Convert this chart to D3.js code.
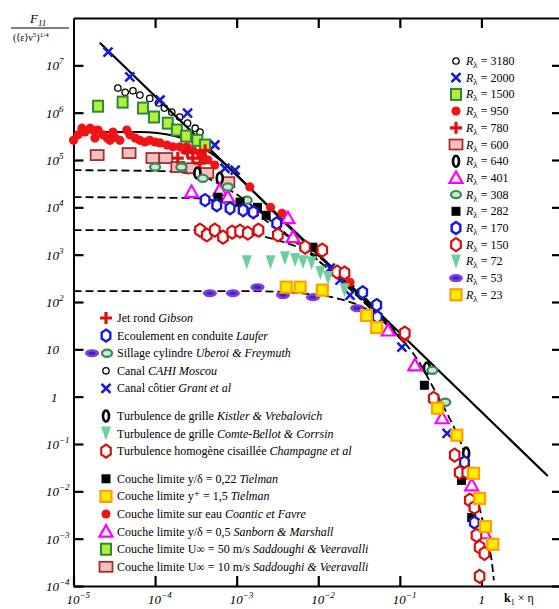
<!DOCTYPE html>
<html>
<head>
<meta charset="utf-8">
<script src="https://cdn.jsdelivr.net/npm/d3@7"></script>
<style>
  body { margin: 0; background: #fff; }
  svg { display: block; font-family: "Liberation Serif", "DejaVu Serif", serif; }
</style>
</head>
<body>
<script>
// ticks
var xTickValues = [1e-5, 1e-4, 1e-3, 1e-2, 1e-1, 1, 10];
var xTickBase = ['10', '10', '10', '10', '10', '1', '10'];
var xTickExp = ['\u22125', '\u22124', '\u22123', '\u22122', '\u22121', '', ''];
var yTickValues = [1e-4, 1e-3, 1e-2, 1e-1, 1, 10, 1e2, 1e3, 1e4, 1e5, 1e6, 1e7];
var yTickBase = ['10', '10', '10', '10', '1', '10', '10', '10', '10', '10', '10', '10'];
var yTickExp = ['\u22124', '\u22123', '\u22122', '\u22121', '', '', '2', '3', '4', '5', '6', '7'];

// spectra, k1*eta vs F11/(eps nu^5)^1/4
var k3180 = [3.5e-5, 4.3e-5, 5.35e-5, 6.5e-5, 8.6e-5, 1.1e-4, 1.3e-4, 1.6e-4, 2.0e-4, 2.5e-4, 3.1e-4, 3.55e-4];
var f3180 = [3.3e6, 2.7e6, 2.9e6, 2.35e6, 2.0e6, 1.6e6, 1.25e6, 1.03e6, 8.1e5, 6.0e5, 4.7e5, 3.9e5];
var k2000 = [2.65e-5, 4.9e-5, 1.15e-4, 2.5e-4, 5.4e-4, 7.2e-4, 9.6e-4, 1.4e-2, 1.85e-2, 2.45e-2, 0.106, 0.38];
var f2000 = [1.9e7, 5.7e6, 1.85e6, 9.8e5, 2.07e5, 6.7e4, 6.1e4, 520, 290, 140, 11.1, 0.168];
var k1500 = [2.0e-5, 4.0e-5, 7.1e-5, 9.7e-5, 1.43e-4, 1.85e-4, 2.4e-4, 3.3e-4, 4.1e-4];
var f1500 = [1.37e6, 1.67e6, 1.25e6, 8.1e5, 6.0e5, 4.3e5, 3.2e5, 2.6e5, 2.07e5];
var k950 = [1e-5, 1.14e-5, 1.27e-5, 1.38e-5, 1.6e-5, 1.73e-5, 1.83e-5, 2.0e-5, 2.3e-5, 2.6e-5, 2.8e-5, 3.05e-5, 3.2e-5, 3.7e-5,
  4.5e-5, 4.9e-5, 5.7e-5, 6.5e-5, 7.5e-5, 8.6e-5, 1.0e-4, 1.15e-4, 1.4e-4, 1.65e-4, 2.0e-4, 2.3e-4, 2.45e-4, 2.9e-4,
  3.55e-4, 3.85e-4, 4.45e-4, 5.4e-4, 1.45e-3, 2.6e-3, 3.6e-3, 2.45e-2, 0.115];
var f950 = [2.6e5, 3.4e5, 4.7e5, 3.9e5, 4.7e5, 4.3e5, 2.9e5, 4.3e5, 3.4e5, 2.9e5, 2.6e5, 3.9e5, 3.0e5, 2.6e5,
  4.3e5, 3.4e5, 2.9e5, 2.6e5, 2.4e5, 2.6e5, 2.4e5, 2.3e5, 2.07e5, 1.9e5, 1.9e5, 1.6e5, 1.9e5, 1.6e5,
  1.4e5, 1.15e5, 1.0e5, 7.8e4, 2.7e4, 1.0e4, 7.5e3, 260, 18];
var k780 = [1.9e-4, 2.5e-4, 2.9e-4, 3.55e-4, 4.1e-4];
var f780 = [1.1e5, 1.47e5, 1.1e5, 8.6e4, 1.6e5];
var k600 = [1.95e-5, 4.8e-5, 9.4e-5, 1.35e-4, 1.9e-4, 2.9e-4, 4.3e-4, 7.8e-4];
var f600 = [1.27e5, 1.4e5, 1.1e5, 1.1e5, 7.1e4, 6.7e4, 5.3e4, 3.4e4];
var k640 = [3.3e-4, 6.2e-4, 0.215, 0.65];
var f640 = [5.3e4, 4.1e4, 4.0, 0.064];
var k401 = [2.8e-4, 6.2e-4, 7.8e-4, 4.25e-3, 4.9e-3, 7.2e-2, 0.153, 0.33, 0.76, 1.09];
var f401 = [2.1e4, 2.3e4, 1.64e4, 5.9e3, 2.35e3, 25, 4.6, 0.35, 0.0134, 0.0013];
var k308 = [1.0e-4, 2.1e-4, 3.85e-4, 7.8e-4, 1.33e-3, 0.25, 0.36];
var f308 = [7.1e4, 7.1e4, 4.1e4, 2.7e4, 1.42e4, 3.6, 0.76];
var k282 = [5.9e-4, 1.1e-3, 1.8e-3, 2.3e-3, 8.6e-3, 0.2, 0.57, 0.76];
var f282 = [1.64e4, 1.29e4, 1.0e4, 6.8e3, 1.44e3, 1.74, 0.017, 0.0028];
var k170 = [4.1e-4, 5.7e-4, 8.3e-4, 1.2e-3, 1.6e-3, 3.1e-3, 3.5e-2, 5.2e-2, 5.3e-2, 0.62, 0.82];
var f170 = [1.42e4, 1.11e4, 9.6e3, 8.7e3, 7.9e3, 4.6e3, 160, 86, 48, 0.041, 0.0022];
var k150 = [3.55e-4, 4.3e-4, 5.4e-4, 6.8e-4, 8.8e-4, 1.1e-3, 1.37e-3, 1.85e-3, 3.2e-3, 6.9e-3, 1.12e-2, 1.7e-2, 2.1e-2,
  0.115, 0.26, 0.47, 0.54, 0.67, 0.72, 0.82, 0.87, 0.95, 1.09, 0.95];
var f150 = [3.3e3, 2.6e3, 3.3e3, 2.35e3, 3.0e3, 3.14e3, 2.85e3, 3.3e3, 2.6e3, 1.44e3, 1.25e3, 430, 410,
  22, 0.92, 0.058, 0.025, 0.025, 0.0065, 0.0046, 0.00117, 0.00066, 0.00049, 0.00016];
var k72 = [1.33e-3, 2.6e-3, 3.9e-3, 5.2e-3, 6.5e-3, 8.3e-3, 1.06e-2, 1.32e-2, 2.1e-2];
var f72 = [690, 690, 840, 770, 690, 660, 410, 320, 178];
var k53 = [4.7e-4, 9.0e-4, 1.8e-3, 3.7e-3, 8.6e-3, 3.0e-2];
var f53 = [153, 153, 206, 140, 126, 74];
var k23 = [4.05e-3, 6.0e-3, 1.12e-2, 3.9e-2, 5.2e-2, 0.29, 0.5, 0.8, 0.95, 1.12, 1.38];
var f23 = [206, 206, 178, 52, 29, 0.57, 0.153, 0.024, 0.0071, 0.0018, 0.00076];

// model curves
var kLine = [2.1e-5, 6.5];
var fLine = [3.0e7, 0.021];
var kCurveA = [1e-5, 6.5e-5, 1.75e-4, 3.55e-4, 7.2e-4, 1.45e-3, 3.4e-3, 1.06e-2, 3.24e-2, 0.1155];
var fCurveA = [3.9e5, 3.9e5, 3.2e5, 1.97e5, 8.2e4, 2.55e4, 5.9e3, 890, 133, 13.5];
var kCurveB = [1e-5, 1.3e-4, 3.55e-4, 8.3e-4, 1.95e-3, 4.5e-3, 1.06e-2, 3.24e-2, 0.1155];
var fCurveB = [6.1e4, 5.8e4, 4.6e4, 2.3e4, 7.9e3, 2.35e3, 690, 120, 13.5];
var kCurveC = [1e-5, 2.7e-4, 7.2e-4, 1.67e-3, 3.9e-3, 1.06e-2, 3.24e-2, 0.1155];
var fCurveC = [1.64e4, 1.57e4, 1.23e4, 7.2e3, 2.7e3, 690, 120, 13.5];
var kCurveD = [1e-5, 2.7e-4, 1.45e-3, 4.5e-3, 1.06e-2, 2.1e-2, 4.95e-2, 0.1155];
var fCurveD = [3.3e3, 3.3e3, 2.7e3, 1.67e3, 840, 330, 74, 13.5];
var kCurveE = [1e-5, 1.45e-3, 6.0e-3, 1.85e-2, 3.73e-2, 6.56e-2, 0.1155];
var fCurveE = [170, 170, 153, 115, 74, 37, 13.5];
var kTail = [0.1155, 0.176, 0.255, 0.378, 0.544, 0.684, 0.81, 1.014, 1.17, 1.35, 1.42];
var fTail = [13.5, 5.1, 1.58, 0.446, 0.12, 0.039, 0.0122, 0.0028, 9.2e-4, 3.0e-4, 1.31e-4];

// legends
var rLambda = ['3180', '2000', '1500', '950', '780', '600', '640', '401', '308', '282', '170', '150', '72', '53', '23'];
var sourceText = ['Jet rond ', 'Ecoulement en conduite ', 'Sillage cylindre ', 'Canal  ', 'Canal c\u00f4tier ',
  'Turbulence de grille ', 'Turbulence de grille ', 'Turbulence homog\u00e8ne cisaill\u00e9e ',
  'Couche limite y/\u03b4 = 0,22  ', 'Couche limite y\u207a = 1,5  ', 'Couche limite sur eau ',
  'Couche limite y/\u03b4 = 0,5  ', 'Couche limite U\u221e = 50 m/s  ', 'Couche limite U\u221e = 10 m/s  '];
var sourceAuthor = ['Gibson', 'Laufer', 'Uberoi & Freymuth', 'CAHI Moscou', 'Grant et al',
  'Kistler & Vrebalovich', 'Comte-Bellot & Corrsin', 'Champagne et al',
  'Tielman', 'Tielman', 'Coantic et Favre', 'Sanborn & Marshall', 'Saddoughi & Veeravalli', 'Saddoughi & Veeravalli'];

var series = [
  {k: k950, f: f950, marker: 'dot'},
  {k: k3180, f: f3180, marker: 'ring'},
  {k: k2000, f: f2000, marker: 'cross'},
  {k: k1500, f: f1500, marker: 'sqGreen'},
  {k: k600, f: f600, marker: 'sqPink'},
  {k: k780, f: f780, marker: 'plus'},
  {k: k640, f: f640, marker: 'zero'},
  {k: k401, f: f401, marker: 'triMag'},
  {k: k308, f: f308, marker: 'diamond'},
  {k: k282, f: f282, marker: 'sqBlack'},
  {k: k170, f: f170, marker: 'hexBlue'},
  {k: k150, f: f150, marker: 'hexRed'},
  {k: k72, f: f72, marker: 'triDown'},
  {k: k53, f: f53, marker: 'ellPurple'},
  {k: k23, f: f23, marker: 'sqYellow'}
];
var rLambdaMarkers = ['ring', 'cross', 'sqGreen', 'dot', 'plus', 'sqPink', 'zero', 'triMag', 'diamond',
  'sqBlack', 'hexBlue', 'hexRed', 'triDown', 'ellPurple', 'sqYellow'];
var sourceMarkers = [['plus'], ['hexBlue'], ['ellPurple', 'diamond'], ['ring'], ['cross'], ['zero'], ['triDown'],
  ['hexRed'], ['sqBlack'], ['sqYellow'], ['dot'], ['triMag'], ['sqGreen'], ['sqPink']];

var width = 559, height = 609;
var svg = d3.select('body').append('svg').attr('width', width).attr('height', height);

var x = d3.scaleLog().domain([1e-5, 10]).range([73.5, 563]);
var y = d3.scaleLog().domain([1e-4, 1e8]).range([586, 18]);

function hexPath(rx, ry) {
  var pts = d3.range(6).map(function(i) {
    var a = Math.PI / 3 * i - Math.PI / 2;
    return [Math.cos(a) * rx, Math.sin(a) * ry];
  });
  return 'M' + pts.join('L') + 'Z';
}

function drawMarker(g, type) {
  switch (type) {
    case 'ring':
      g.append('circle').attr('r', 3.2).attr('fill', 'none').attr('stroke', '#000').attr('stroke-width', 1.3);
      break;
    case 'cross':
      g.append('path').attr('d', 'M-4.5,-4.5L4.5,4.5M-4.5,4.5L4.5,-4.5')
        .attr('stroke', '#1a1ad6').attr('stroke-width', 2.6);
      break;
    case 'sqGreen':
      g.append('rect').attr('x', -5).attr('y', -5.5).attr('width', 10).attr('height', 11)
        .attr('fill', '#b4f03a').attr('stroke', '#2e8540').attr('stroke-width', 2);
      break;
    case 'dot':
      g.append('circle').attr('r', 4.6).attr('fill', '#f01414');
      break;
    case 'plus':
      g.append('path').attr('d', 'M-6,0H6M0,-6V6').attr('stroke', '#e01010').attr('stroke-width', 3.2);
      break;
    case 'sqPink':
      g.append('rect').attr('x', -6.5).attr('y', -5).attr('width', 13).attr('height', 10)
        .attr('fill', '#f7c0c0').attr('stroke', '#a03030').attr('stroke-width', 1.8);
      break;
    case 'zero':
      g.append('ellipse').attr('rx', 3).attr('ry', 5.5)
        .attr('fill', '#fff').attr('stroke', '#000').attr('stroke-width', 2.6);
      break;
    case 'triMag':
      g.append('path').attr('d', 'M0,-6.5L6.5,5L-6.5,5Z')
        .attr('fill', '#fff').attr('stroke', '#ff00ff').attr('stroke-width', 2.2);
      break;
    case 'diamond':
      g.append('ellipse').attr('rx', 5).attr('ry', 3.6)
        .attr('fill', '#cfe8cf').attr('stroke', '#3a8a58').attr('stroke-width', 2.2);
      break;
    case 'sqBlack':
      g.append('rect').attr('x', -4.5).attr('y', -4.5).attr('width', 9).attr('height', 9).attr('fill', '#000');
      break;
    case 'hexBlue':
      g.append('path').attr('d', hexPath(5, 6))
        .attr('fill', '#fff').attr('stroke', '#1818d8').attr('stroke-width', 2.4);
      break;
    case 'hexRed':
      g.append('path').attr('d', hexPath(5.5, 6.5))
        .attr('fill', '#fff').attr('stroke', '#d41010').attr('stroke-width', 2.2);
      break;
    case 'triDown':
      g.append('path').attr('d', 'M-5,-7L5,-7L0,7Z').attr('fill', '#6ccf9c');
      break;
    case 'ellPurple':
      g.append('ellipse').attr('rx', 7).attr('ry', 4).attr('fill', '#7a3ee6');
      g.append('ellipse').attr('rx', 3.5).attr('ry', 1.6).attr('fill', '#4b1fb3');
      break;
    case 'sqYellow':
      g.append('rect').attr('x', -5.5).attr('y', -5.5).attr('width', 11).attr('height', 11)
        .attr('fill', '#ffec00').attr('stroke', '#ffa000').attr('stroke-width', 2.2);
      break;
  }
}

// frame and ticks
var frame = svg.append('g');
frame.append('g').attr('transform', 'translate(0,586)')
  .call(d3.axisBottom(x).tickValues(xTickValues).tickSizeInner(-10).tickSizeOuter(0).tickFormat(''));
frame.append('g').attr('transform', 'translate(0,18)')
  .call(d3.axisTop(x).tickValues([1e-4, 1e-3, 1e-2, 1e-1, 1]).tickSizeInner(-10).tickSizeOuter(0).tickFormat(''));
frame.append('g').attr('transform', 'translate(73.5,0)')
  .call(d3.axisLeft(y).tickValues(yTickValues).tickSizeInner(-10).tickSizeOuter(0).tickFormat(''));
frame.append('g').attr('transform', 'translate(563,0)')
  .call(d3.axisRight(y).tickValues(yTickValues).tickSizeInner(-11).tickSizeOuter(0).tickFormat(''));
frame.selectAll('path.domain').attr('stroke', '#000').attr('stroke-width', 2);
frame.selectAll('.tick line').attr('stroke', '#000').attr('stroke-width', 2.2);

// tick labels
svg.append('g').selectAll('text').data(xTickValues).enter().append('text')
  .attr('x', function(d, i) { return xTickExp[i] ? x(d) - 7 : x(d) - 3; })
  .attr('y', 604)
  .attr('font-size', 13).attr('font-style', 'italic')
  .each(function(d, i) {
    var t = d3.select(this);
    t.append('tspan').text(xTickBase[i]);
    if (xTickExp[i]) t.append('tspan').attr('dy', -6).attr('font-size', 9).text(xTickExp[i]);
  });

svg.append('g').selectAll('text').data(yTickValues).enter().append('text')
  .attr('x', function(d, i) { return yTickBase[i] === '1' ? 51 : 46; })
  .attr('y', function(d) { return y(d) + 5; })
  .attr('font-size', 13).attr('font-style', 'italic')
  .each(function(d, i) {
    var t = d3.select(this);
    t.append('tspan').text(yTickBase[i]);
    if (yTickExp[i]) t.append('tspan').attr('dy', -6).attr('font-size', 9).text(yTickExp[i]);
  });

// axis titles
var yt = svg.append('text').attr('x', 30).attr('y', 23).attr('font-size', 13).attr('font-style', 'italic');
yt.append('tspan').text('F');
yt.append('tspan').attr('dy', 3).attr('font-size', 9).text('11');
svg.append('line').attr('x1', 11).attr('x2', 69).attr('y1', 28).attr('y2', 28).attr('stroke', '#000').attr('stroke-width', 1);
var yd = svg.append('text').attr('x', 13).attr('y', 41).attr('font-size', 10);
yd.append('tspan').text('(\u27e8\u03b5\u27e9\u03bd');
yd.append('tspan').attr('dy', -4).attr('font-size', 7).text('5');
yd.append('tspan').attr('dy', 4).text(')');
yd.append('tspan').attr('dy', -4).attr('font-size', 7).text('1/4');

var xt = svg.append('text').attr('x', 504).attr('y', 602).attr('font-size', 12);
xt.append('tspan').attr('font-weight', 'bold').text('k');
xt.append('tspan').attr('dy', 3).attr('font-size', 8).text('1');
xt.append('tspan').attr('dy', -3).text(' \u00d7 \u03b7');

// model spectra
var line = d3.line()
  .x(function(d) { return x(d[0]); })
  .y(function(d) { return y(d[1]); })
  .curve(d3.curveMonotoneX);

var curves = svg.append('g').attr('fill', 'none').attr('stroke', '#000');
curves.append('path').attr('d', line(d3.zip(kLine, fLine))).attr('stroke-width', 2.2);
curves.append('path').attr('d', line(d3.zip(kCurveA, fCurveA))).attr('stroke-width', 2);
[[kCurveB, fCurveB], [kCurveC, fCurveC], [kCurveD, fCurveD], [kCurveE, fCurveE], [kTail, fTail]].forEach(function(c) {
  curves.append('path').attr('d', line(d3.zip(c[0], c[1])))
    .attr('stroke-width', 1.8).attr('stroke-dasharray', '8,4');
});

// data points
series.forEach(function(s) {
  svg.append('g').selectAll('g').data(d3.zip(s.k, s.f)).enter().append('g')
    .attr('transform', function(d) { return 'translate(' + x(d[0]) + ',' + y(d[1]) + ')'; })
    .each(function() { drawMarker(d3.select(this), s.marker); });
});

// R_lambda legend
var rl = svg.append('g').selectAll('g').data(rLambda).enter().append('g')
  .attr('transform', function(d, i) { return 'translate(0,' + (61 + i * 16.7) + ')'; });
rl.each(function(d, i) {
  var g = d3.select(this);
  drawMarker(g.append('g').attr('transform', 'translate(456,0)'), rLambdaMarkers[i]);
  var t = g.append('text').attr('x', 466).attr('y', 4).attr('font-size', 12);
  t.append('tspan').attr('font-style', 'italic').text('R');
  t.append('tspan').attr('dy', 3).attr('font-size', 9).text('\u03bb');
  t.append('tspan').attr('dy', -3).text(' = ' + d);
});

// source legend
var sl = svg.append('g').selectAll('g').data(sourceText).enter().append('g')
  .attr('transform', function(d, i) {
    var grp = i < 5 ? 0 : (i < 8 ? 1 : 2);
    return 'translate(0,' + (318 + i * 17.6 + grp * 10) + ')';
  });
sl.each(function(d, i) {
  var g = d3.select(this);
  var m = sourceMarkers[i];
  if (m.length === 2) {
    drawMarker(g.append('g').attr('transform', 'translate(92,0)'), m[0]);
    drawMarker(g.append('g').attr('transform', 'translate(107,0)'), m[1]);
  } else {
    drawMarker(g.append('g').attr('transform', 'translate(106,0)'), m[0]);
  }
  var t = g.append('text').attr('x', 117).attr('y', 4).attr('font-size', 12);
  t.append('tspan').text(d);
  t.append('tspan').attr('font-style', 'italic').text(sourceAuthor[i]);
});
</script>
</body>
</html>
